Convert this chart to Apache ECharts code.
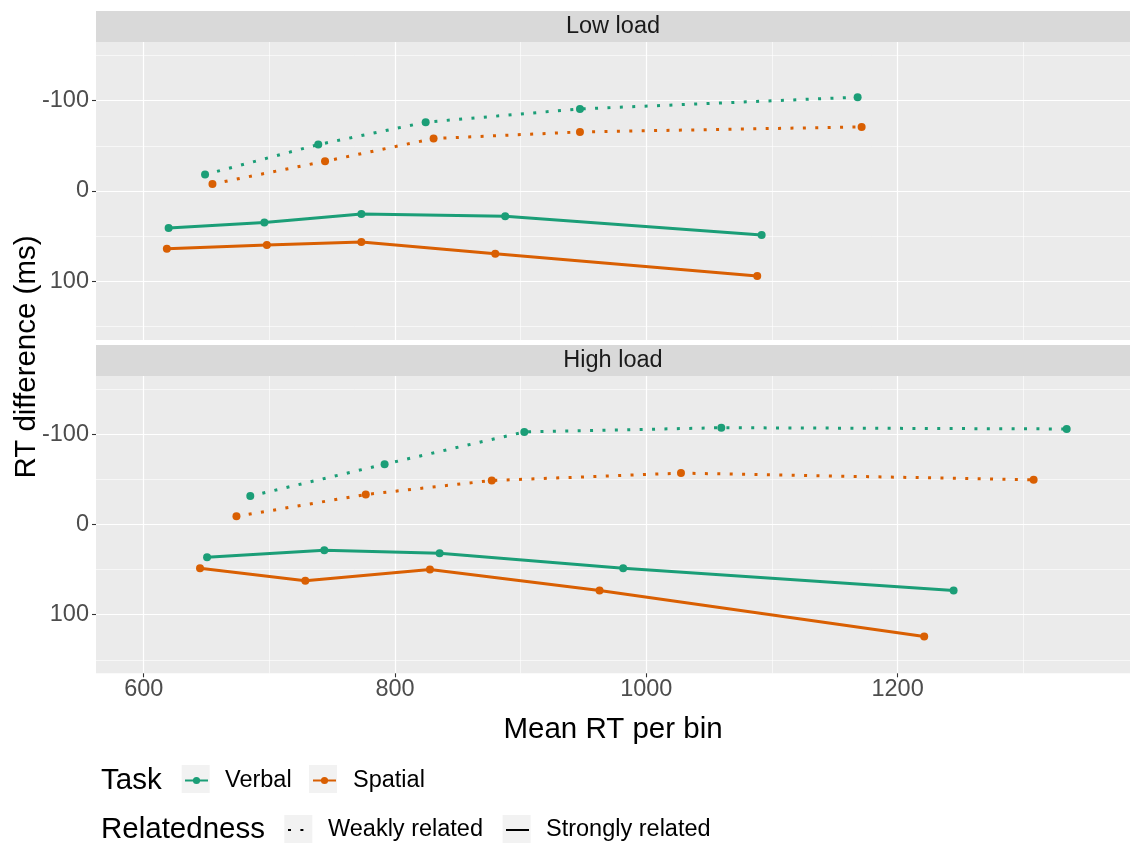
<!DOCTYPE html>
<html>
<head>
<meta charset="utf-8">
<script src="https://cdn.jsdelivr.net/npm/echarts@6/dist/echarts.min.js"></script>
<style>
  html, body { margin: 0; padding: 0; background: #ffffff; }
  #chart { width: 1130px; height: 843px; }
</style>
</head>
<body>
<div id="chart"></div>
<script>
// Facets, groups and tick positions
const panels = ['Low load', 'High load'];
const tasks = ['Verbal', 'Spatial'];
const relatedness = ['Weakly related', 'Strongly related'];
const xTicks = [600, 800, 1000, 1200];
const xMinorTicks = [700, 900, 1100, 1300];
const yTicks = [-100, 0, 100];
const yMinorTicks = [-150, -50, 50, 150];

// Low load: mean RT per bin (x) and RT difference (y)
const lowVerbalWeakX = [648.8, 738.9, 824.4, 947.2, 1168.2];
const lowVerbalWeakY = [-18.2, -51.4, -76.2, -90.9, -103.9];
const lowSpatialWeakX = [654.7, 744.3, 830.7, 947.2, 1171.4];
const lowSpatialWeakY = [-7.8, -32.9, -58.1, -65.4, -71.0];
const lowVerbalStrongX = [619.8, 696.0, 773.2, 887.7, 1091.8];
const lowVerbalStrongY = [41.0, 35.0, 25.5, 28.0, 48.8];
const lowSpatialStrongX = [618.4, 698.0, 773.2, 879.8, 1088.3];
const lowSpatialStrongY = [63.9, 59.9, 56.5, 69.4, 94.2];

// High load
const highVerbalWeakX = [684.8, 791.7, 902.9, 1059.7, 1334.6];
const highVerbalWeakY = [-31.7, -67.1, -102.9, -107.6, -106.2];
const highSpatialWeakX = [673.8, 776.7, 877.0, 1027.6, 1308.3];
const highSpatialWeakY = [-9.2, -33.5, -49.0, -57.2, -49.8];
const highVerbalStrongX = [650.4, 743.7, 835.5, 981.6, 1244.6];
const highVerbalStrongY = [36.2, 28.4, 31.7, 48.3, 73.0];
const highSpatialStrongX = [644.8, 728.6, 827.8, 962.8, 1221.2];
const highSpatialStrongY = [48.3, 62.3, 49.8, 73.0, 124.2];

const taskColors = { Verbal: '#1B9E77', Spatial: '#D95F02' };
const FONT = '"Liberation Sans", Arial, sans-serif';
const X_MIN = 562, X_MAX = 1385, Y_MIN = -165, Y_MAX = 165;

const zip = (xs, ys) => xs.map((x, i) => [x, ys[i]]);

// [panelIndex, task, relatedness, x, y]; strongly related first so the legend keys use solid lines
const groups = [
  [0, 'Verbal', 'Strongly related', lowVerbalStrongX, lowVerbalStrongY],
  [0, 'Spatial', 'Strongly related', lowSpatialStrongX, lowSpatialStrongY],
  [0, 'Verbal', 'Weakly related', lowVerbalWeakX, lowVerbalWeakY],
  [0, 'Spatial', 'Weakly related', lowSpatialWeakX, lowSpatialWeakY],
  [1, 'Verbal', 'Strongly related', highVerbalStrongX, highVerbalStrongY],
  [1, 'Spatial', 'Strongly related', highSpatialStrongX, highSpatialStrongY],
  [1, 'Verbal', 'Weakly related', highVerbalWeakX, highVerbalWeakY],
  [1, 'Spatial', 'Weakly related', highSpatialWeakX, highSpatialWeakY]
];

const DOTTED = [3, 9.4];
const LINE_W = 3;

const series = groups.map(([p, task, rel, xs, ys]) => ({
  type: 'line',
  name: task,
  xAxisIndex: p,
  yAxisIndex: p,
  data: zip(xs, ys),
  symbol: 'circle',
  symbolSize: 8,
  showSymbol: true,
  color: taskColors[task],
  itemStyle: { color: taskColors[task] },
  lineStyle: {
    color: taskColors[task],
    width: LINE_W,
    type: rel === 'Weakly related' ? DOTTED : 'solid',
    cap: 'butt'
  },
  emphasis: { disabled: true },
  z: 3
}));

// Line-type keys for the Relatedness legend
relatedness.forEach(rel => {
  series.push({
    type: 'line',
    name: rel,
    xAxisIndex: 0,
    yAxisIndex: 0,
    data: [],
    symbol: 'none',
    color: '#000000',
    itemStyle: { color: '#000000' },
    lineStyle: { color: '#000000', width: LINE_W, type: rel === 'Weakly related' ? DOTTED : 'solid', cap: 'butt' }
  });
});

const gridBase = { left: 96, width: 1034, show: true, backgroundColor: '#EBEBEB', borderWidth: 0, containLabel: false, outerBoundsMode: 'none' };
const plain = v => String(v);

function xAxisFor(gridIndex, ticks, major, withLabels) {
  return {
    type: 'value', gridIndex: gridIndex, min: X_MIN, max: X_MAX, position: 'bottom',
    axisLine: { show: false, onZero: false },
    axisTick: { show: withLabels, length: 4, lineStyle: { color: '#333333', width: 1.1 }, customValues: ticks },
    axisLabel: withLabels
      ? { show: true, customValues: ticks, formatter: plain, margin: 4, fontSize: 23.5, color: '#4D4D4D', fontFamily: FONT }
      : { show: false, customValues: ticks },
    splitLine: { show: true, lineStyle: { color: '#FFFFFF', width: major ? 1.2 : 0.6 } },
    name: withLabels ? 'Mean RT per bin' : '',
    nameLocation: 'middle',
    nameGap: 42,
    nameTextStyle: { fontSize: 29.5, color: '#000000', fontFamily: FONT }
  };
}

function yAxisFor(gridIndex, ticks, major, withLabels) {
  return {
    type: 'value', gridIndex: gridIndex, min: Y_MIN, max: Y_MAX, inverse: true, position: 'left',
    axisLine: { show: false, onZero: false },
    axisTick: { show: withLabels, length: 4, lineStyle: { color: '#333333', width: 1.1 }, customValues: ticks },
    axisLabel: withLabels
      ? { show: true, customValues: ticks, formatter: plain, margin: 7, fontSize: 23.5, color: '#4D4D4D', fontFamily: FONT }
      : { show: false, customValues: ticks },
    splitLine: { show: true, lineStyle: { color: '#FFFFFF', width: major ? 1.2 : 0.6 } }
  };
}

function legendFor(name, left, top, hideSymbol) {
  return {
    data: [name], left: left, top: top, padding: 0,
    itemWidth: 23, itemHeight: 9, selectedMode: false,
    itemStyle: hideSymbol ? { opacity: 0 } : {},
    textStyle: { fontSize: 23.5, color: '#000000', fontFamily: FONT, padding: [0, 0, 0, 12] }
  };
}

const stripText = (text, y) => ({
  type: 'text', x: 613, y: y,
  style: { text: text, fill: '#1A1A1A', font: '23.5px ' + FONT, textAlign: 'center', textVerticalAlign: 'middle' }
});
const keyBox = (x, y) => ({ type: 'rect', shape: { x: x, y: y, width: 28, height: 28 }, style: { fill: '#F2F2F2' }, z: -1 });

const option = {
  animation: false,
  backgroundColor: '#FFFFFF',
  grid: [
    Object.assign({ top: 42, height: 298 }, gridBase),
    Object.assign({ top: 376, height: 297.3 }, gridBase)
  ],
  xAxis: [
    xAxisFor(0, xTicks, true, false),
    xAxisFor(1, xTicks, true, true),
    xAxisFor(0, xMinorTicks, false, false),
    xAxisFor(1, xMinorTicks, false, false)
  ],
  yAxis: [
    yAxisFor(0, yTicks, true, true),
    yAxisFor(1, yTicks, true, true),
    yAxisFor(0, yMinorTicks, false, false),
    yAxisFor(1, yMinorTicks, false, false)
  ],
  legend: [
    legendFor('Verbal', 184, 768.5, false),
    legendFor('Spatial', 312, 768.5, false),
    legendFor('Weakly related', 287, 818, true),
    legendFor('Strongly related', 505, 818, true)
  ],
  graphic: [
    { type: 'rect', shape: { x: 96, y: 11, width: 1034, height: 31 }, style: { fill: '#D9D9D9' } },
    { type: 'rect', shape: { x: 96, y: 345, width: 1034, height: 31 }, style: { fill: '#D9D9D9' } },
    stripText(panels[0], 27),
    stripText(panels[1], 361),
    {
      type: 'text', x: 27, y: 357, rotation: Math.PI / 2,
      style: { text: 'RT difference (ms)', fill: '#000000', font: '29.5px ' + FONT, textAlign: 'center', textVerticalAlign: 'middle' }
    },
    { type: 'text', x: 101, y: 781, style: { text: 'Task', fill: '#000000', font: '29.5px ' + FONT, textAlign: 'left', textVerticalAlign: 'middle' } },
    { type: 'text', x: 101, y: 830, style: { text: 'Relatedness', fill: '#000000', font: '29.5px ' + FONT, textAlign: 'left', textVerticalAlign: 'middle' } },
    keyBox(181.7, 765),
    keyBox(309, 765),
    keyBox(284.3, 815),
    keyBox(502.6, 815)
  ],
  series: series
};

const chart = echarts.init(document.getElementById('chart'), null, { renderer: 'canvas' });
chart.setOption(option);
</script>
</body>
</html>
